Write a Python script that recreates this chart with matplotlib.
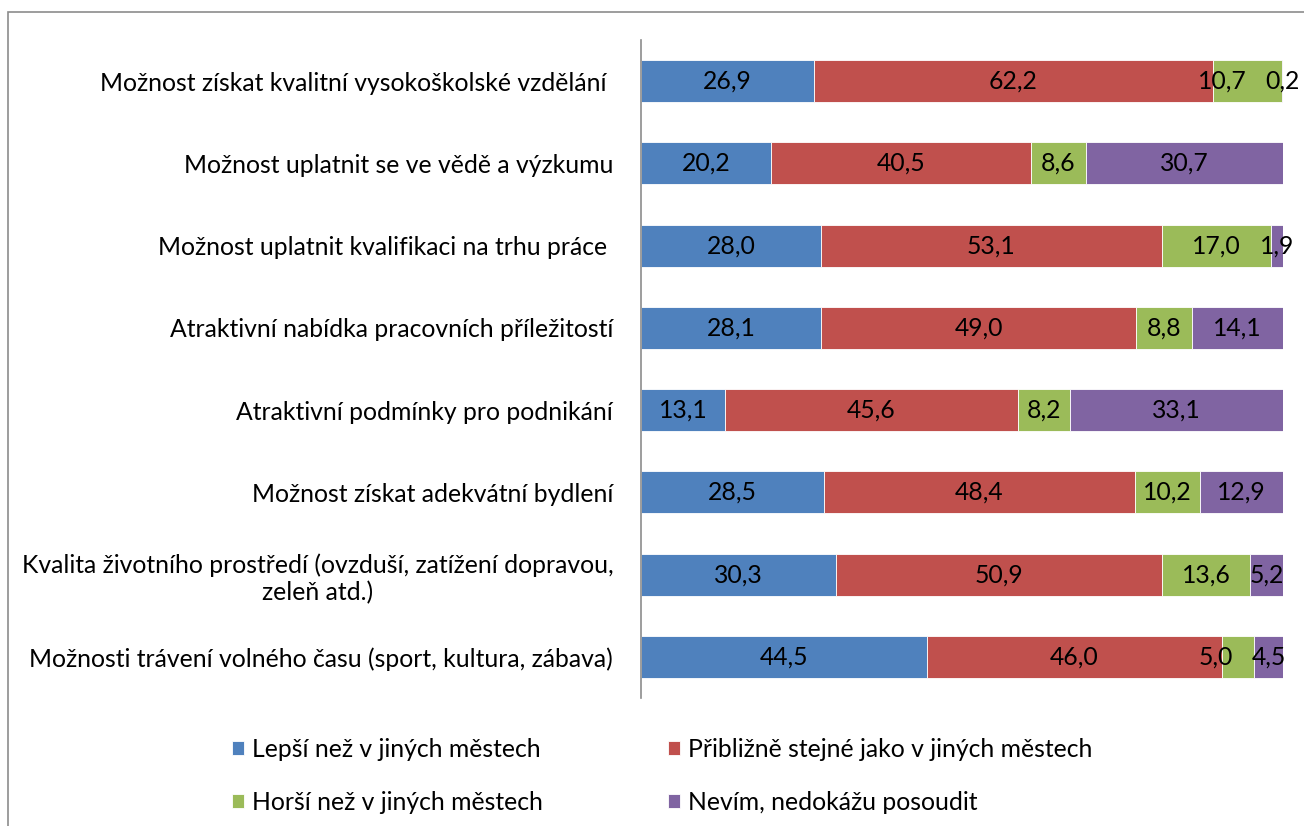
import numpy as np
import matplotlib.pyplot as plt
from matplotlib.patches import Rectangle

plt.rcParams['font.family'] = ['Lato', 'DejaVu Sans']

categories = [
    'Možnost získat kvalitní vysokoškolské vzdělání ',
    'Možnost uplatnit se ve vědě a výzkumu',
    'Možnost uplatnit kvalifikaci na trhu práce ',
    'Atraktivní nabídka pracovních příležitostí',
    'Atraktivní podmínky pro podnikání',
    'Možnost získat adekvátní bydlení',
    'Kvalita životního prostředí (ovzduší, zatížení dopravou,\nzeleň atd.)',
    'Možnosti trávení volného času (sport, kultura, zábava)',
]
better = [26.9, 20.2, 28.0, 28.1, 13.1, 28.5, 30.3, 44.5]
same = [62.2, 40.5, 53.1, 49.0, 45.6, 48.4, 50.9, 46.0]
worse = [10.7, 8.6, 17.0, 8.8, 8.2, 10.2, 13.6, 5.0]
unknown = [0.2, 30.7, 1.9, 14.1, 33.1, 12.9, 5.2, 4.5]

series_names = [
    'Lepší než v jiných městech',
    'Přibližně stejné jako v jiných městech',
    'Horší než v jiných městech',
    'Nevím, nedokážu posoudit',
]
colors = ['#4F81BD', '#C0504D', '#9BBB59', '#8064A2']
FS = 17.8

fig = plt.figure(figsize=(13.04, 8.26), dpi=100)
ax = fig.add_axes([641 / 1304, 1 - 698 / 826, 642 / 1304, 658 / 826])

# chart border (only top and left edge visible)
fig.patches.append(Rectangle((8 / 1304, -0.1), 1.2, 1 - 12 / 826 + 0.1,
                             transform=fig.transFigure, fill=False,
                             edgecolor='#8c8c8c', linewidth=1.2))

y = np.arange(len(categories))
left = np.zeros(len(categories))
handles = []
labels_by_row = [[] for _ in categories]
for vals, name, col in zip([better, same, worse, unknown], series_names, colors):
    vals = np.array(vals)
    bars = ax.barh(y, vals, left=left, height=0.51, color=col,
                   edgecolor='white', linewidth=0.6, label=name)
    handles.append(bars)
    for yi, l, v in zip(y, left, vals):
        t = ax.text(l + v / 2, yi, f'{v:.1f}'.replace('.', ','), ha='center',
                    va='center', fontsize=FS, color='black')
        labels_by_row[yi].append(t)
    left += vals

ax.set_xlim(0, 100)
ax.set_ylim(len(categories) - 0.5, -0.5)
ax.set_yticks(y)
ax.set_yticklabels(categories, fontsize=FS, ha='right')
ax.tick_params(axis='y', length=0, pad=20)
ax.set_xticks([])
for s in ['top', 'right', 'bottom']:
    ax.spines[s].set_visible(False)
ax.spines['left'].set_color('#8c8c8c')
ax.spines['left'].set_linewidth(1.2)
for lbl in ax.get_yticklabels():
    lbl.set_multialignment('center')

# push overlapping data labels to the left, like the original
fig.canvas.draw()
renderer = fig.canvas.get_renderer()
inv = ax.transData.inverted()
for row in labels_by_row:
    for i in range(len(row) - 1, 0, -1):
        cur = row[i].get_window_extent(renderer)
        prev = row[i - 1].get_window_extent(renderer)
        gap = 18
        if prev.x1 > cur.x0 - gap:
            shift = prev.x1 - (cur.x0 - gap)
            x0, _ = row[i - 1].get_position()
            px = ax.transData.transform((x0, 0))[0] - shift
            row[i - 1].set_x(inv.transform((px, 0))[0])

leg_kw = dict(loc='upper left', frameon=False, fontsize=FS, handlelength=0.5,
              handleheight=0.5, handletextpad=0.3, labelspacing=1.2,
              borderaxespad=0, borderpad=0)
fig.legend(handles=[handles[0], handles[2]], labels=[series_names[0], series_names[2]],
           bbox_to_anchor=(232 / 1304, 1 - 738 / 826), **leg_kw)
fig.legend(handles=[handles[1], handles[3]], labels=[series_names[1], series_names[3]],
           bbox_to_anchor=(668 / 1304, 1 - 738 / 826), **leg_kw)

fig.savefig('out.png', dpi=100)
